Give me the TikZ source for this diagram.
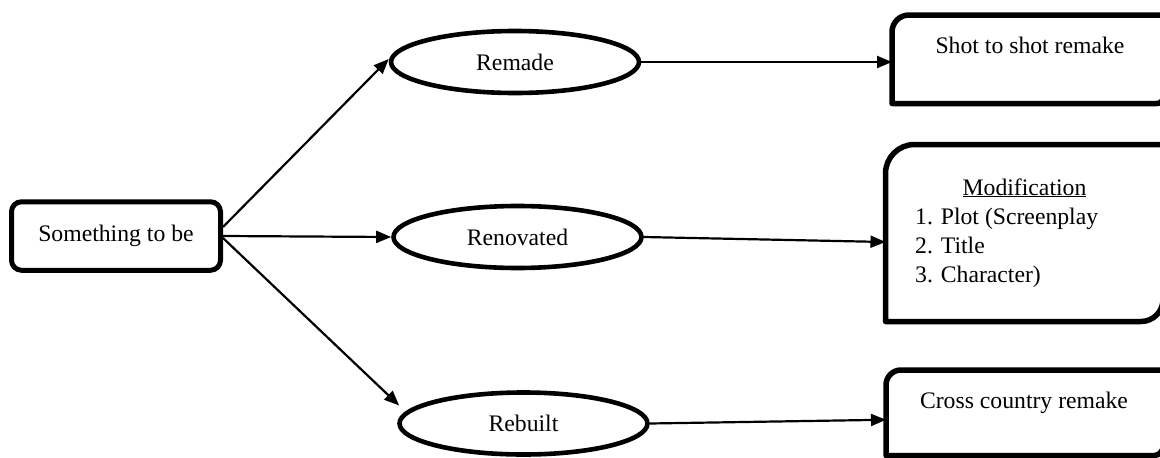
\documentclass[tikz,border=0pt]{standalone}
\usepackage{fontspec}
\setmainfont{Liberation Serif}
\usetikzlibrary{shapes.geometric,arrows.meta}

% outline of a box whose top-left and bottom-right corners are rounded
\newcommand\cornerbox[3]{%
  \draw[boxline] (#1.south west) -- ([yshift=-#2]#1.north west)
    arc[start angle=180,end angle=90,radius=#2] -- (#1.north east)
    -- ([yshift=#3]#1.south east)
    arc[start angle=0,end angle=-90,radius=#3] -- cycle;}

\tikzset{
  txt/.style={font=\fontsize{23.7}{29}\selectfont, inner sep=0pt},
  startbox/.style={txt, draw, line width=5pt, rounded corners=10pt,
    minimum width=209pt, minimum height=68.5pt, inner sep=0pt},
  oval/.style={txt, ellipse, draw, line width=4.6pt, inner sep=0pt,
    minimum width=248pt, minimum height=62pt},
  frame/.style={rectangle, inner sep=0pt, outer sep=0pt, anchor=north west},
  boxline/.style={line width=5.5pt, line join=round},
  link/.style={line width=2.2pt, -{Triangle[length=15pt,width=12pt]}}
}

\begin{document}
\begin{tikzpicture}[x=1pt,y=-1pt]
\useasboundingbox (0,0) rectangle (1160,458);

% source node and the three outcomes
\node[startbox] (smth) at (116,236) {Something to be};
\node[oval] (remade) at (515,62) {Remade};
\node[oval] (renov) at (517.5,237) {Renovated};
\node[oval] (rebuilt) at (523.5,423.5) {Rebuilt};

% result boxes (right edges run off the page)
\node[frame, minimum width=271pt, minimum height=88.5pt] (shot) at (892,15) {};
\node[frame, minimum width=277.5pt, minimum height=177pt] (modif) at (885.5,144.5) {};
\node[frame, minimum width=277pt, minimum height=85.5pt] (cross) at (886,370) {};
\cornerbox{shot}{17pt}{6pt}
\cornerbox{modif}{29pt}{22pt}
\cornerbox{cross}{15pt}{9pt}

\node[txt, anchor=base] (shottxt) at (1030,53) {Shot to shot remake};
\node[txt, anchor=base] (modtitle) at (1024.5,195) {\underline{Modification}};
\node[txt, anchor=base west] (mod1) at (915,224) {1. Plot (Screenplay};
\node[txt, anchor=base west] (mod2) at (915,253) {2. Title};
\node[txt, anchor=base west] (mod3) at (915,282) {3. Character)};
\node[txt, anchor=base] (crosstxt) at (1024,408) {Cross country remake};

% connectors
\draw[link] ([yshift=9pt]smth.east) -- ([yshift=3pt]remade.west);
\draw[link] (smth.east) -- (renov.west);
\draw[link] ([yshift=-2pt]smth.east) -- ([shift={(2pt,18pt)}]rebuilt.west);
\draw[link] (remade.east) -- (remade.east -| shot.west);
\draw[link] (renov.east) -- ([yshift=-9pt]modif.west);
\draw[link] (rebuilt.east) -- ([yshift=-7pt]cross.west);
\end{tikzpicture}
\end{document}
